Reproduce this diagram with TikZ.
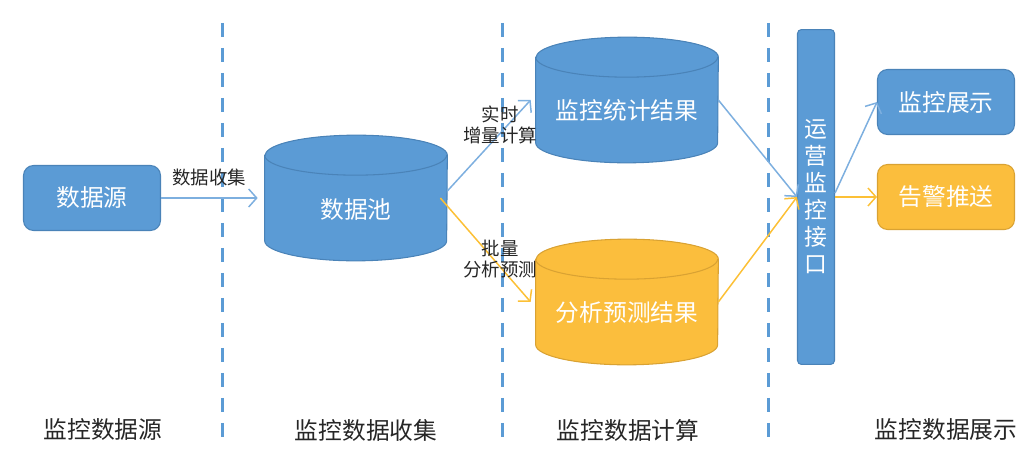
\documentclass[tikz,border=0pt]{standalone}
\usepackage{fontspec}
\setmainfont{Noto Sans CJK SC}
\usetikzlibrary{arrows.meta, positioning, calc}
\definecolor{bluefill}{HTML}{5B9BD5}
\definecolor{blueedge}{HTML}{4A83B8}
\definecolor{orangefill}{HTML}{FBBE3D}
\definecolor{orangeedge}{HTML}{D9A233}
\definecolor{bluearrow}{HTML}{7DAFDF}
\definecolor{orangearrow}{HTML}{FCC036}
\tikzset{
  box/.style={rectangle,draw=blueedge,fill=bluefill,rounded corners=0.2cm,line width=0.6pt,
    minimum width=2.74cm,minimum height=1.3cm,text=white,font=\fontsize{13.5}{16}\selectfont},
  obox/.style={box,draw=orangeedge,fill=orangefill},
  dbbox/.style={rectangle,inner sep=0pt,minimum width=3.64cm,minimum height=2.5cm},
  dbtext/.style={text=white,font=\fontsize{13.5}{16}\selectfont},
  tag/.style={align=center,font=\fontsize{10.5}{12}\selectfont,text=black!85},
  stage/.style={font=\fontsize{13.5}{16}\selectfont,text=black!85},
  divider/.style={bluefill,line width=0.06cm,dash pattern=on 0.28cm off 0.22cm},
  line/.style={-{Straight Barb[length=1.6mm,width=3.6mm]},line width=0.85pt},
  bline/.style={line,bluearrow},
  oline/.style={line,orangearrow}
}
% cylinder drawn inside a dbbox node: #1 node, #2 fill, #3 edge
\newcommand{\drawdb}[3]{%
  \filldraw[draw=#3,fill=#2,line width=0.6pt]
    ($(#1.north west)+(0,20)$) -- ($(#1.south west)+(0,-20)$)
    arc[start angle=180,end angle=360,x radius=1.82cm,y radius=0.4cm]
    -- ($(#1.north east)+(0,20)$)
    arc[start angle=0,end angle=180,x radius=1.82cm,y radius=0.4cm] -- cycle;
  \draw[draw=#3,line width=0.6pt] ($(#1.north west)+(0,20)$)
    arc[start angle=180,end angle=360,x radius=1.82cm,y radius=0.4cm];
}

\begin{document}
\begin{tikzpicture}[x=0.02cm,y=-0.02cm]
\useasboundingbox (0,0) rectangle (1024,476);
% stage dividers
\foreach \x in {222,502,768}
  \draw[divider] (\x,23) -- (\x,440);

\node[box] (src) at (92,198) {数据源};
\node[dbbox] (pool) at (356,198) {};
\drawdb{pool}{bluefill}{blueedge}
\node[dbtext] (poolt) at (356,210) {数据池};
\node[dbbox] (stat) at (627,100) {};
\drawdb{stat}{bluefill}{blueedge}
\node[dbtext] (statt) at (627,110) {监控统计结果};
\node[dbbox] (pred) at (627,302) {};
\drawdb{pred}{orangefill}{orangeedge}
\node[dbtext] (predt) at (627,313) {分析预测结果};
\node[box,rounded corners=0.08cm,minimum width=0.74cm,minimum height=6.7cm,inner sep=0pt,
  align=center,font=\fontsize{13}{15.4}\selectfont] (api) at (816,197) {运\\营\\监\\控\\接\\口};
\node[box] (show) at (946,102) {监控展示};
\node[obox] (alarm) at (946,197) {告警推送};

\draw[bline] (src) -- node[tag,above=1mm] (collect) {数据收集} ([xshift=-0.14cm]pool.west);
\draw[bline] ($(pool.east)+(0,-7)$) -- ([xshift=-0.1cm]stat.west);
\draw[oline] ($(pool.east)+(-7,0)$) -- ([xshift=-0.1cm]pred.west);
\draw[bline] (stat.east) -- (api.west);
\draw[oline] (pred.east) -- (api.west);
\draw[bline] ($(api.east)+(0,-4)$) -- (show.west);
\draw[oline] (api.east) -- (alarm.west);

\node[tag] (rt) at (500,125) {实时\\增量计算};
\node[tag] (bt) at (500,259) {批量\\分析预测};

\node[stage] (s1) at (103,430) {监控数据源};
\node[stage] (s2) at (366,430) {监控数据收集};
\node[stage] (s3) at (628,430) {监控数据计算};
\node[stage] (s4) at (946,430) {监控数据展示};
\end{tikzpicture}
\end{document}
